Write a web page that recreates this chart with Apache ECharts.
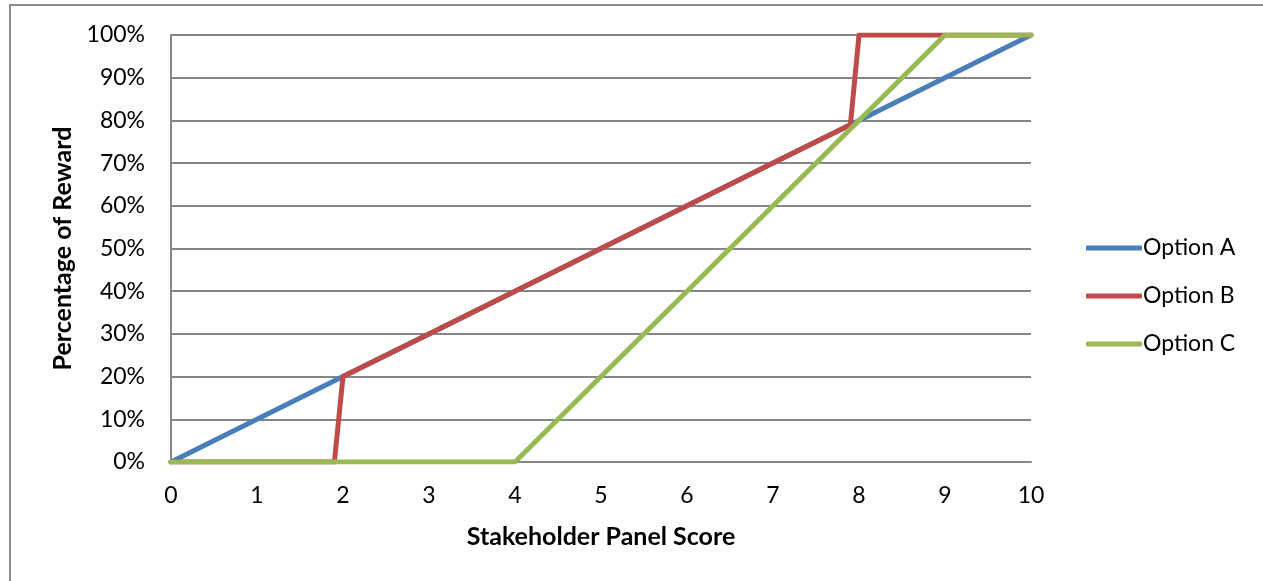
<!DOCTYPE html>
<html>
<head>
<meta charset="utf-8">
<script src="https://cdn.jsdelivr.net/npm/echarts@6/dist/echarts.min.js"></script>
<style>
html,body{margin:0;padding:0;background:#fff;}
#c{width:1263px;height:581px;}
</style>
</head>
<body>
<div id="c"></div>
<script>
var seriesNames = ['Option A', 'Option B', 'Option C'];
var scoresA = [0, 1, 2, 3, 4, 5, 6, 7, 8, 9, 10];
var valuesA = [0, 10, 20, 30, 40, 50, 60, 70, 80, 90, 100];
var scoresB = [0, 1, 1.9, 2, 3, 4, 5, 6, 7, 7.9, 8, 9, 10];
var valuesB = [0, 0, 0, 20, 30, 40, 50, 60, 70, 79, 100, 100, 100];
var scoresC = [0, 1, 2, 3, 4, 5, 6, 7, 8, 9, 10];
var valuesC = [0, 0, 0, 0, 0, 20, 40, 60, 80, 100, 100];
var colors = ['#4A7EBB', '#BE4B48', '#98B954'];
var xTitle = 'Stakeholder Panel Score';
var yTitle = 'Percentage of Reward';

function pairs(xs, ys) { return xs.map(function (x, i) { return [x, ys[i]]; }); }

var FONT = 'Lato, "Open Sans", sans-serif';
var chart = echarts.init(document.getElementById('c'));
var mk = function (name, xs, ys, color) {
  return {
    name: name, type: 'line', data: pairs(xs, ys), showSymbol: false, symbol: 'none',
    lineStyle: { color: color, width: 5, cap: 'round', join: 'round' },
    itemStyle: { color: color }, animation: false
  };
};
chart.setOption({
  animation: false,
  color: colors,
  graphic: [{
    type: 'rect', shape: { x: 10, y: 5, width: 1400, height: 700 },
    style: { fill: 'none', stroke: '#8c8c8c', lineWidth: 2 }, silent: true, z: -10
  }],
  grid: { left: 171, right: 232, top: 35, bottom: 119, containLabel: false },
  legend: {
    orient: 'vertical', left: 1081, top: 231,
    itemWidth: 56, itemHeight: 5, itemGap: 24,
    icon: 'roundRect',
    textStyle: { fontFamily: FONT, fontSize: 23, lineHeight: 24, color: '#000', padding: [0, 0, 0, -4] },
    data: seriesNames
  },
  xAxis: {
    type: 'value', min: 0, max: 10, interval: 1,
    name: xTitle, nameLocation: 'middle', nameGap: 62,
    nameTextStyle: { fontFamily: FONT, fontSize: 25, fontWeight: 'bold', color: '#000' },
    axisLine: { show: true, lineStyle: { color: '#868686', width: 2 } },
    axisTick: { show: false },
    splitLine: { show: false },
    axisLabel: { fontFamily: FONT, fontSize: 23, color: '#000', margin: 22 }
  },
  yAxis: {
    type: 'value', min: 0, max: 100, interval: 10,
    name: yTitle, nameLocation: 'middle', nameGap: 95, nameRotate: 90,
    nameTextStyle: { fontFamily: FONT, fontSize: 25, fontWeight: 'bold', color: '#000' },
    axisLine: { show: true, lineStyle: { color: '#868686', width: 2 } },
    axisTick: { show: false },
    splitLine: { show: true, lineStyle: { color: '#868686', width: 2 } },
    axisLabel: { fontFamily: FONT, fontSize: 23, color: '#000', margin: 26, formatter: '{value}%' }
  },
  series: [
    mk(seriesNames[0], scoresA, valuesA, colors[0]),
    mk(seriesNames[1], scoresB, valuesB, colors[1]),
    mk(seriesNames[2], scoresC, valuesC, colors[2])
  ]
});
</script>
</body>
</html>
